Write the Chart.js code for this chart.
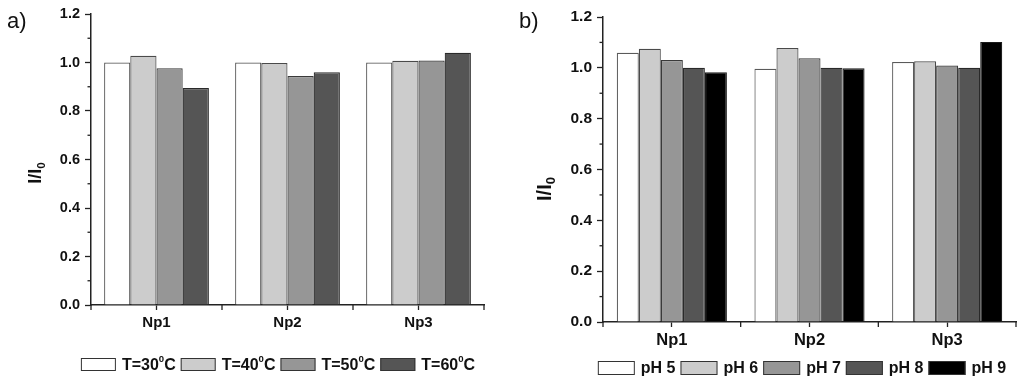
<!DOCTYPE html>
<html>
<head>
<meta charset="utf-8">
<script src="https://cdn.jsdelivr.net/npm/chart.js@4/dist/chart.umd.min.js"></script>
<style>
  html, body { margin: 0; padding: 0; background: #fff; }
  #wrap { position: relative; width: 1024px; height: 384px; }
  .panel { position: absolute; top: 0; width: 512px; height: 384px; }
</style>
</head>
<body>
<div id="wrap">
  <div class="panel" style="left:0"><canvas id="chartA" width="512" height="384"></canvas></div>
  <div class="panel" style="left:512px"><canvas id="chartB" width="512" height="384"></canvas></div>
</div>
<script>
// data
const categories = ['Np1', 'Np2', 'Np3'];
const yTicks = [0, 0.2, 0.4, 0.6, 0.8, 1.0, 1.2];

const tempLabels = ['T=30\u2070C', 'T=40\u2070C', 'T=50\u2070C', 'T=60\u2070C'];
const t30 = [1.00, 1.00, 1.00];
const t40 = [1.028, 0.998, 1.007];
const t50 = [0.976, 0.944, 1.008];
const t60 = [0.895, 0.960, 1.040];

const phLabels = ['pH 5', 'pH 6', 'pH 7', 'pH 8', 'pH 9'];
const ph5 = [1.059, 0.996, 1.023];
const ph6 = [1.075, 1.078, 1.026];
const ph7 = [1.031, 1.038, 1.009];
const ph8 = [1.000, 1.000, 1.000];
const ph9 = [0.983, 0.998, 1.102];

const fills = ['#ffffff', '#cccccc', '#969696', '#555555', '#000000'];
const edges = ['#5a5a5a', '#4a4a4a', '#3a3a3a', '#2a2a2a', '#1a1a1a'];
const FONT = '"Liberation Sans", Arial, sans-serif';

// draws text where ⁰ is a raised small 0 and ₀ a lowered small 0
function richText(ctx, text, x, y, size, align) {
  const parts = [];
  for (const ch of text) {
    if (ch === '\u2070') parts.push({ t: '0', s: 0.6, dy: -0.38 });
    else if (ch === '\u2080') parts.push({ t: '0', s: 0.65, dy: 0.32 });
    else if (parts.length && parts[parts.length - 1].s === 1) parts[parts.length - 1].t += ch;
    else parts.push({ t: ch, s: 1, dy: 0 });
  }
  let total = 0;
  parts.forEach(p => {
    ctx.font = 'bold ' + (size * p.s) + 'px ' + FONT;
    p.w = ctx.measureText(p.t).width;
    total += p.w;
  });
  let cx = align === 'center' ? x - total / 2 : x;
  ctx.textAlign = 'left';
  ctx.textBaseline = 'middle';
  parts.forEach(p => {
    ctx.font = 'bold ' + (size * p.s) + 'px ' + FONT;
    ctx.fillText(p.t, cx, y + p.dy * size);
    cx += p.w;
  });
  return total;
}

function richWidth(ctx, text, size) {
  let w = 0;
  for (const ch of text) {
    const sup = ch === '\u2070' || ch === '\u2080';
    ctx.font = 'bold ' + (sup ? size * 0.6 : size) + 'px ' + FONT;
    w += ctx.measureText(sup ? '0' : ch).width;
  }
  return w;
}

const decor = {
  id: 'decor',
  afterDraw(chart, args, o) {
    const ctx = chart.ctx;
    const ys = chart.scales.y, xs = chart.scales.x;
    ctx.save();
    ctx.strokeStyle = '#222';
    ctx.lineWidth = 1.3;
    // minor ticks on y
    for (let i = 0; i < yTicks.length - 1; i++) {
      const py = ys.getPixelForValue((yTicks[i] + yTicks[i + 1]) / 2);
      ctx.beginPath();
      ctx.moveTo(ys.right - 3.5, py);
      ctx.lineTo(ys.right, py);
      ctx.stroke();
    }
    // category boundary ticks on x
    const n = categories.length;
    for (let i = 0; i <= n; i++) {
      const px = xs.left + i * (xs.right - xs.left) / n;
      ctx.beginPath();
      ctx.moveTo(px, xs.top);
      ctx.lineTo(px, xs.top + 5);
      ctx.stroke();
    }
    // panel letter
    ctx.fillStyle = '#111';
    ctx.font = '22px ' + FONT;
    ctx.textAlign = 'left';
    ctx.textBaseline = 'alphabetic';
    ctx.fillText(o.letter, 7, 28);
    // y title
    ctx.save();
    ctx.translate(o.titleX, o.titleY);
    ctx.rotate(-Math.PI / 2);
    richText(ctx, 'I/I\u2080', 0, 0, o.titleSize, 'center');
    ctx.restore();
    // legend
    const ds = chart.data.datasets;
    const gap = 6, after = 5;
    const widths = ds.map(d => richWidth(ctx, d.label, o.legendSize));
    const total = widths.reduce((a, w) => a + o.boxW + gap + w + after, 0) - after;
    let lx = o.legendCX - total / 2;
    ds.forEach((d, i) => {
      ctx.fillStyle = d.backgroundColor;
      ctx.fillRect(lx, o.legendY - o.boxH / 2, o.boxW, o.boxH);
      ctx.strokeStyle = '#333';
      ctx.lineWidth = 1;
      ctx.strokeRect(lx + 0.5, o.legendY - o.boxH / 2 + 0.5, o.boxW - 1, o.boxH - 1);
      ctx.fillStyle = '#111';
      richText(ctx, d.label, lx + o.boxW + gap, o.legendY + 1, o.legendSize, 'left');
      lx += o.boxW + gap + widths[i] + after;
    });
    ctx.restore();
  }
};

function makeChart(id, labels, series, o) {
  new Chart(document.getElementById(id), {
    type: 'bar',
    data: {
      labels: categories,
      datasets: series.map((s, i) => ({
        label: labels[i],
        data: s,
        backgroundColor: fills[i],
        borderColor: edges[i],
        borderWidth: 1.2,
        categoryPercentage: 0.8,
        barPercentage: 1.0
      }))
    },
    plugins: [decor],
    options: {
      responsive: false,
      animation: false,
      layout: { padding: { left: 0, right: o.padR, top: o.padT, bottom: o.padB } },
      plugins: {
        legend: { display: false },
        tooltip: { enabled: false },
        decor: o
      },
      scales: {
        x: {
          grid: { display: true, drawOnChartArea: false, offset: false, tickLength: 5, tickColor: '#222', tickWidth: 1.3 },
          border: { display: true, color: '#222', width: 1.5 },
          ticks: { color: '#111', padding: 4, font: { family: FONT, weight: 'bold', size: o.xSize } },
          afterFit(scale) { scale.height = 30; }
        },
        y: {
          min: 0, max: 1.2,
          afterBuildTicks(scale) { scale.ticks = yTicks.map(v => ({ value: v })); },
          grid: { display: true, drawOnChartArea: false, tickLength: 6, tickColor: '#222', tickWidth: 1.3 },
          border: { display: true, color: '#222', width: 1.5 },
          ticks: {
            color: '#111', padding: 5,
            font: { family: FONT, weight: 'bold', size: o.ySize },
            callback: v => Number(v).toFixed(1)
          },
          afterFit(scale) { scale.width = 91; }
        }
      }
    }
  });
}

makeChart('chartA', tempLabels, [t30, t40, t50, t60], {
  letter: 'a)', padR: 28, padT: 14, padB: 49,
  xSize: 15, ySize: 14.5, titleSize: 18, titleX: 36, titleY: 173,
  legendSize: 16, legendCX: 278, legendY: 364.5, boxW: 35, boxH: 13
});
makeChart('chartB', phLabels, [ph5, ph6, ph7, ph8, ph9], {
  letter: 'b)', padR: 8, padT: 17, padB: 32,
  xSize: 16.5, ySize: 15.5, titleSize: 20, titleX: 33, titleY: 189,
  legendSize: 16, legendCX: 290, legendY: 368, boxW: 37, boxH: 14
});
</script>
</body>
</html>
